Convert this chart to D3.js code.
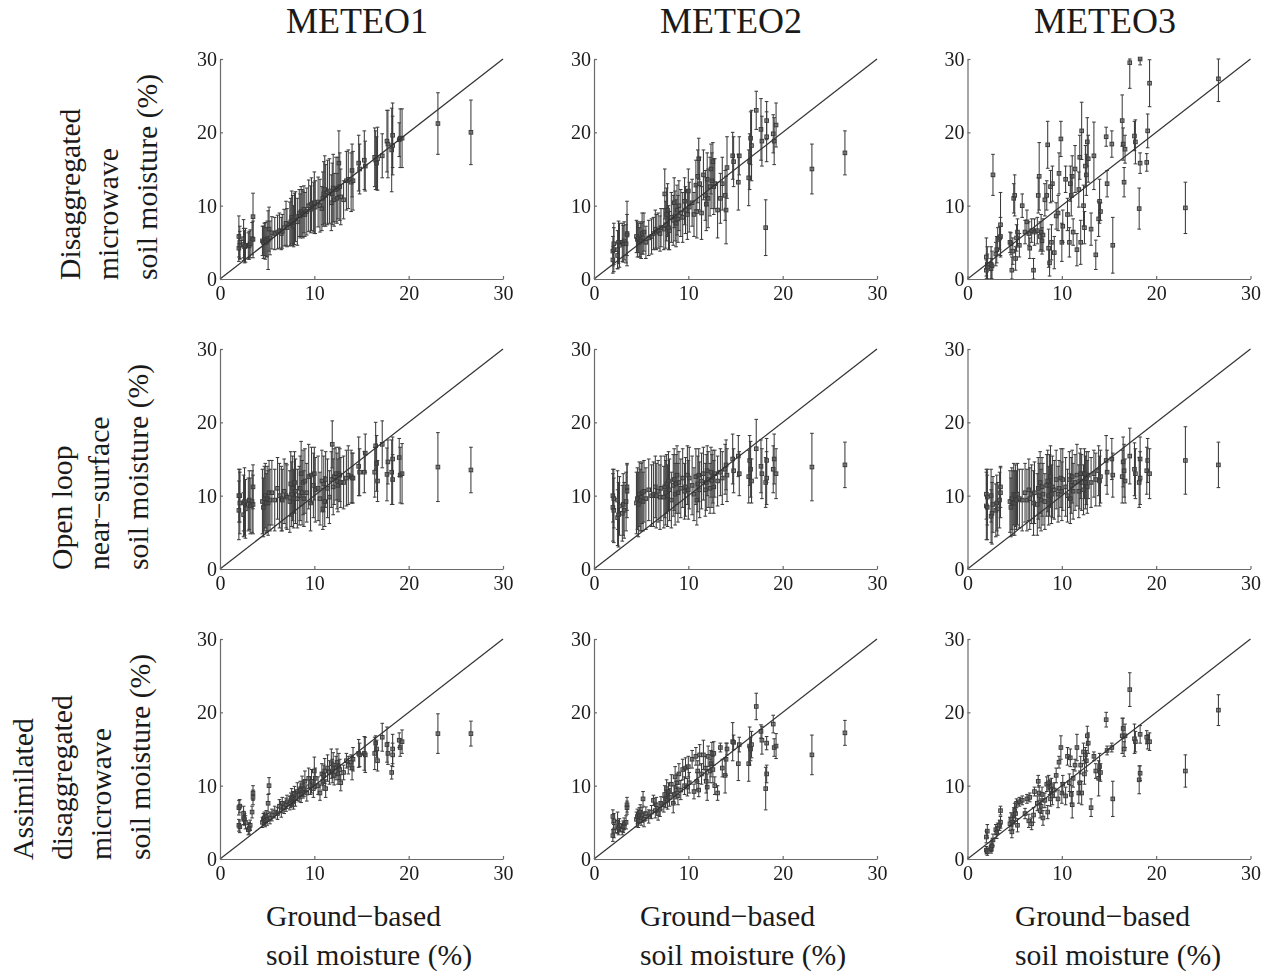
<!DOCTYPE html>
<html>
<head>
<meta charset="utf-8">
<script src="https://cdn.jsdelivr.net/npm/d3@7"></script>
<style>
html,body{margin:0;padding:0;background:#fff;}
svg{display:block;}
text{font-family:"Liberation Serif",serif;fill:#1a1a1a;}
</style>
</head>
<body>
<div id="chart"></div>
<script>
const columnTitles = ["METEO1","METEO2","METEO3"];
const rowLabels = [
  ["Disaggregated","microwave","soil moisture (%)"],
  ["Open loop","near\u2212surface","soil moisture (%)"],
  ["Assimilated","disaggregated","microwave","soil moisture (%)"]
];
const xLabelLines = ["Ground\u2212based","soil moisture (%)"];
const tickValues = [0,10,20,30];

const ground = [
 2.0,2.0,2.1,2.1,2.5,2.5,2.6,2.7,3.0,3.1,3.2,3.4,3.5,3.5,
 4.5,4.6,4.7,4.8,4.9,5.0,5.1,5.2,5.3,5.5,5.8,6.1,6.3,6.5,6.6,6.8,7.0,7.1,
 7.4,7.5,7.6,7.7,7.8,7.9,8.0,8.2,8.4,8.5,8.6,8.7,8.8,8.9,9.0,9.2,9.4,9.6,9.7,9.9,10.0,10.1,
 10.4,10.6,10.8,10.9,11.0,11.1,11.2,11.4,11.6,11.8,11.9,12.0,12.1,12.3,12.4,12.5,12.6,12.7,12.8,
 13.1,13.4,13.6,13.9,14.0,14.1,14.7,14.8,15.3,15.4,16.4,16.5,16.6,16.7,17.2,17.7,17.8,18.2,18.3,18.3,19.0,19.1,19.3,23.1,26.6];

const disaggMeteo1 = [
 4.2,5.8,5.0,4.6,4.7,5.5,4.4,4.6,4.5,4.6,4.8,5.5,8.5,5.4,
 5.2,5.0,5.4,5.2,5.0,5.5,5.3,6.8,5.6,6.3,6.2,6.4,6.6,6.2,6.5,7.0,7.6,7.0,
 7.5,7.8,8.4,8.0,7.2,8.2,8.5,7.8,9.0,8.6,9.2,9.0,8.8,9.5,8.8,9.2,10.0,9.5,10.2,9.8,10.4,9.8,
 10.5,10,9.6,11,11.6,12.2,11.4,11.8,12,10.4,11.6,12.4,10.8,12.2,11,12.4,15.8,12.6,11.2,
 10.8,13.4,13.6,13.2,14.8,13.4,15.8,15.0,16.2,15.4,16.6,16.2,15.8,16.4,16.8,18.8,18.4,17.6,19.6,18.2,19.0,19.2,19.2,21.2,20.0];
const disaggMeteo1Err = [
 1.8,2.8,2.2,1.9,2.2,2.6,2.2,2.3,1.8,1.9,1.9,2.2,3.2,2.5,
 2.0,2.2,2.2,2.5,2.0,2.4,4.0,3.0,2.3,2.2,2.2,2.3,2.4,2.2,2.3,2.5,3.0,2.6,
 3,3.2,3.6,3.4,2.8,3.5,3.4,3.2,3.2,3,3.4,3.2,3.2,3.2,3,3.2,3.5,3.2,3.6,3.4,4.2,3.6,
 3.4,3.6,3,3.6,4.4,4.6,4.2,4.4,4.4,3.8,4.2,4.6,3.6,4.4,3.4,4.2,4.4,4.6,3.8,
 2.6,4,4,4,3.6,4,3.8,3.4,4,3.4,4,4,3.6,4.3,3,4.2,4.6,5.7,4.4,4,2.3,4,4,4.2,4.4];

const disaggMeteo2 = [
 2.6,3.8,4.0,4.8,3.2,4.0,5.0,4.6,5.0,4.8,5.2,4.8,6.2,6.0,
 5.8,5.4,5.6,5.0,5.4,5.2,6.2,5.6,6.4,5.0,5.6,5.8,6.2,6.8,6.4,6.6,6.2,7.0,
 6.8,11.6,7.4,8.8,9.4,7.0,6.6,8.4,8.0,10.4,8.6,7.6,9.4,8.2,10.0,9.0,8.4,10.6,9.4,8.8,12.0,9.8,
 10.4,8.8,12.8,9.2,14.0,16.4,13.0,9.0,14.2,11.4,10.2,13.6,11.0,12.6,15.0,13.4,16.0,12.6,13.0,
 9.4,11.0,13.0,11.4,9.4,15.2,16.8,16.0,13.2,16.8,13.8,16.0,19.2,18.2,23.0,20.4,18.8,7.0,19.4,21.6,19.8,18.8,21.0,15.0,17.2];
const disaggMeteo2Err = [
 1.8,2.0,3.0,2.8,1.8,2.6,2.9,3.0,2.6,2.5,2.6,2.6,4.4,2.8,
 2.2,2.4,2.0,2.0,2.4,2.4,2.8,2.2,2.6,2.2,2.4,2.4,2.2,2.6,2.4,2.4,2.4,2.6,
 2.8,3.4,3.2,3.6,3.6,3.0,2.6,3.4,3.4,3.4,3.4,3.2,3.4,3.2,3.4,3.2,3.4,3.2,3.2,3.4,3.0,3.4,
 3.2,3.0,3.4,3.6,3.6,2.8,3.6,3.6,3.4,3.4,3.6,3.6,4.0,4.0,3.4,3.8,2.6,3.8,3.4,
 3.8,3.4,3.6,3.4,4.6,4.2,3.2,3.4,3.8,2.6,3.8,3.8,3.6,4.8,2.6,4.2,3.4,3.8,3.4,2.6,2.6,3.2,3.0,3.4,3.0];

const disaggMeteo3 = [
 1.2,3.0,2.0,1.6,1.4,2.0,1.8,14.2,3.4,4.0,5.4,5.6,7.4,5.8,
 5.0,4.8,1.2,3.8,11.0,11.4,2.8,5.6,6.4,4.6,10.0,6.4,7.8,6.2,4.2,6.6,1.2,6.4,
 6.6,11.4,14.0,5.8,6.4,5.2,6.0,10.8,11.4,18.3,4.2,2.2,12.6,5.0,13.0,3.6,8.6,9.0,14.4,19.1,5.0,7.2,
 13.6,8.8,5.0,13.0,11.4,14.0,6.4,15.0,4.0,12.2,16.6,5.0,20.2,10.0,7.0,15.4,14.2,18.7,16.4,
 6.8,16.8,3.3,8.2,10.6,9.2,19.4,13.0,18.4,4.6,21.6,18.4,13.2,17.7,29.5,19.5,18.7,9.6,30,15.8,15.9,20.2,26.7,9.7,27.3];
const disaggMeteo3Err = [
 1.4,2.6,2.4,1.8,1.4,2.4,2.0,2.8,1.6,1.8,1.6,1.6,4.4,2.6,
 1.4,1.5,1.8,1.8,2.0,2.8,1.6,1.8,1.8,1.6,1.6,1.6,1.6,1.6,1.4,1.6,1.6,1.8,
 1.8,2.4,4.6,2.0,2.4,1.8,2.2,2.2,2.0,3.2,2.6,1.8,2.2,2.4,2.4,2.2,1.8,2.4,2.8,2.4,2.6,2.2,
 1.8,2.2,2.0,2.4,2.8,2.8,1.8,3.2,2.2,2.4,3.0,3.0,3.9,2.8,2.2,2.8,2.8,3.3,3.2,
 2.2,4.6,2.0,2.4,3.0,1.2,1.3,1.8,1.8,3.8,3.5,2.2,2.0,1.9,3.5,2.0,3.0,2.8,0.8,1.4,1.2,2.3,3.2,3.5,3.1];

const openMeteo1 = [
 8.0,10.0,10.0,9.0,9.0,7.4,9.2,8.2,8.8,9.4,8.6,9.2,11.2,8.8,
 9.2,8.4,9.6,10.0,9.0,9.6,9.0,10.4,9.4,10.4,9.4,11.0,10.0,9.6,9.4,10.6,10.0,9.8,
 9.2,11.6,10.2,11.0,9.6,11.8,10.6,9.6,10.0,11.0,13.0,10.4,11.8,9.6,12.0,10.4,12.6,9.0,12.8,11.4,13.0,10.8,
 11.0,9.6,12.0,8.2,11.6,9.2,12.2,11.0,9.8,12.2,17.0,11.2,12.6,13.0,12.0,11.4,13.0,12.8,11.8,
 11.8,12.4,12.8,12.6,12.4,12.4,14.0,13.2,13.2,15.8,13.2,16.8,14.4,12.0,17.0,12.9,14.6,13.2,15.0,12.2,15.2,12.8,13.0,13.9,13.5];
const openMeteo1Err = [
 4.0,3.6,3.6,4.2,3.8,3.0,4.6,4.0,3.6,4.0,3.8,4.2,3.0,4.0,
 4.4,4.0,4.4,4.4,4.0,4.4,4.4,4.4,4.2,4.4,4.2,4.2,4.4,4.4,4.2,4.4,4.4,4.4,
 4.2,4.4,4.4,4.4,4.0,4.2,4.4,4.0,4.0,4.4,4.4,4.4,4.4,3.8,4.4,4.0,4.4,3.8,3.8,4.4,3.6,4.4,
 4.4,3.6,4.2,2.8,3.8,3.4,3.8,4.0,3.6,3.8,3.2,3.8,3.8,3.6,3.8,3.6,3.6,3.6,3.4,
 3.6,3.8,4.0,3.6,3.4,3.4,4.0,3.2,2.8,2.6,3.4,3.2,3.8,2.8,3.2,3.6,3.0,4.4,3.0,3.4,2.6,3.8,4.1,4.7,3.1];

const openMeteo2 = [
 8.4,10.0,8.0,9.6,7.0,9.4,7.4,8.6,7.6,8.8,8.0,9.2,11.2,10.6,
 9.0,9.6,8.8,10.2,9.4,9.8,10.4,9.2,10.6,9.6,10.8,10.0,10.2,11.2,10.0,10.6,9.8,11.0,
 9.8,11.2,10.4,11.6,10.0,12.0,10.8,9.4,11.4,12.2,10.2,11.6,12.8,10.4,11.8,11.0,12.4,10.6,11.2,12.8,10.8,12.4,
 11.4,10.2,12.6,9.4,11.6,12.8,10.8,12.0,13.0,10.8,11.8,13.4,12.2,11.0,13.2,12.0,12.6,11.2,13.0,
 12.0,13.2,12.4,13.6,14.2,12.8,15.0,13.4,15.4,13.0,12.6,14.8,13.6,12.0,16.4,14.0,13.0,11.8,14.8,12.4,13.6,15.0,13.0,13.9,14.2];
const openMeteo2Err = [
 4.6,3.6,4.4,4.0,3.8,4.0,4.4,4.0,3.8,4.2,3.8,4.0,3.2,3.6,
 4.2,4.2,4.4,4.4,4.2,4.6,4.2,4.0,4.2,4.2,4.2,4.2,4.4,4.2,4.4,4.2,4.4,4.4,
 4.2,4.2,4.4,4.0,4.2,4.0,4.2,3.8,4.2,4.2,4.2,4.0,4.0,4.0,4.2,4.0,4.0,3.8,4.0,4.0,4.0,4.2,
 4.0,3.6,3.8,3.4,3.8,3.6,3.8,3.8,3.6,3.6,3.8,3.4,3.8,3.4,3.4,3.6,3.6,3.6,3.2,
 3.4,3.2,3.6,3.4,3.4,3.6,3.4,3.0,2.8,3.0,3.6,3.4,3.8,3.0,4.0,3.6,3.4,3.4,3.0,3.6,3.2,3.4,3.4,4.6,3.1];

const openMeteo3 = [
 8.6,10.2,8.4,9.8,7.2,10.0,7.6,8.8,8.0,9.0,8.2,9.4,11.2,10.4,
 9.2,8.4,9.6,9.0,10.2,9.0,10.0,9.4,10.2,9.6,9.4,10.4,9.4,10.8,9.6,10.2,9.0,10.4,
 8.8,11.0,10.0,11.8,9.4,11.2,10.2,9.2,11.4,12.0,10.0,11.4,12.6,10.2,11.2,10.8,12.2,10.2,11.0,12.4,10.6,12.2,
 11.2,10.0,12.2,9.6,11.4,12.6,10.6,11.8,12.8,10.6,12.0,13.0,11.8,10.8,13.0,11.8,12.4,11.2,12.8,
 11.8,13.0,12.2,13.4,12.0,12.6,14.8,13.2,15.0,12.8,12.6,14.6,13.4,12.0,15.4,13.6,13.0,11.8,15.0,12.4,13.4,14.8,13.0,14.8,14.2];
const openMeteo3Err = [
 4.6,3.4,4.4,3.8,3.6,3.6,4.2,3.8,3.6,3.8,3.6,3.8,2.8,3.4,
 4.2,4.0,4.2,4.4,4.2,4.4,4.2,4.0,4.2,4.0,4.2,4.0,4.2,4.2,4.2,4.0,4.4,4.2,
 4.2,4.2,4.4,4.2,4.2,4.0,4.2,3.8,4.2,4.2,4.0,4.2,4.2,4.0,4.2,4.0,4.0,3.8,3.8,4.0,4.0,4.2,
 4.0,3.6,3.8,3.4,3.8,3.6,3.8,3.8,4.2,3.6,3.8,3.4,3.8,3.4,3.4,3.6,3.6,3.6,3.2,
 3.4,3.2,3.6,3.4,3.4,3.6,3.4,3.0,2.8,3.0,3.6,3.4,3.6,3.0,3.8,3.6,3.4,3.4,3.0,3.6,3.2,3.0,3.4,4.6,3.1];

const assimMeteo1 = [
 4.6,7.0,7.2,4.4,5.6,6.2,5.4,5.0,4.0,4.2,4.6,6.4,8.4,9.0,
 5.0,5.4,5.6,5.2,5.8,5.4,7.6,10.0,5.6,6.0,6.4,6.2,7.2,6.6,7.6,7.0,7.4,7.8,
 7.6,8.0,8.4,8.2,7.8,8.8,8.2,9.2,8.8,9.4,8.8,10.0,9.4,9.6,10.6,9.0,11.0,10.0,10.6,9.6,12.0,11.0,
 10.0,9.0,11.6,10.6,11.4,12.0,9.6,12.4,11.8,13.0,12.0,12.8,11.4,12.4,13.2,11.6,12.6,12.2,10.4,
 11.8,13.4,12.8,13.2,12.4,13.6,14.4,14.2,14.4,14.2,14.4,15.8,15.0,13.4,16.6,15.6,14.4,11.8,15.0,14.2,16.2,15.2,16.0,17.1,17.1];
const assimMeteo1Err = [
 0.8,1.0,0.9,0.8,0.9,1.0,0.8,0.9,0.7,0.8,0.7,0.8,1.0,1.0,
 0.7,0.8,0.8,0.8,0.8,0.8,1.2,1.1,0.8,0.8,0.8,0.8,0.9,0.9,0.8,0.8,0.9,0.9,
 0.9,1.0,1.2,1.0,1.0,1.1,1.0,1.2,1.0,1.2,1.1,1.3,1.1,1.1,1.4,1.1,1.4,1.2,1.6,1.2,1.9,1.4,
 1.2,1.0,1.4,1.2,1.4,1.7,1.2,1.8,1.6,2.0,1.6,1.7,1.3,1.6,1.8,1.4,1.8,1.4,1.1,
 1.0,1.0,1.2,1.0,1.6,1.6,1.9,1.6,2.3,2.4,2.2,1.0,1.2,1.4,1.9,2.4,1.5,0.9,2.0,1.6,1.0,1.2,1.6,2.7,1.7];

const assimMeteo2 = [
 3.2,5.8,5.2,3.8,4.4,5.0,4.2,4.6,4.0,4.4,4.8,5.0,7.0,7.4,
 5.4,5.8,5.2,6.0,6.4,5.6,6.0,8.2,5.4,6.2,5.8,6.4,8.0,6.6,7.4,6.2,6.8,7.6,
 7.4,8.8,8.2,9.6,8.0,9.2,8.4,10.2,7.6,8.8,11.2,9.4,10.4,8.6,11.6,9.4,12.2,10.0,12.4,9.8,12.6,10.4,
 13.6,9.2,14.0,10.6,12.0,9.4,14.2,11.6,14.2,12.4,10.6,9.8,14.0,12.0,13.0,14.4,12.2,14.4,10.0,
 9.0,15.2,12.4,11.4,13.6,15.0,16.0,15.9,13.0,15.6,13.0,15.4,15.0,15.6,20.8,17.4,16.2,9.6,11.6,15.8,18.4,15.2,15.4,14.2,17.2];
const assimMeteo2Err = [
 0.8,0.9,1.0,0.9,0.9,1.4,0.9,0.9,0.7,0.8,0.8,0.9,0.9,1.0,
 1.0,1.0,0.9,1.0,1.0,1.0,1.0,1.0,1.0,0.9,0.9,0.9,0.7,1.0,1.0,0.9,1.0,0.9,
 1.0,1.2,1.2,1.2,1.2,1.2,1.2,1.3,1.3,1.2,1.4,1.2,1.2,1.2,1.4,1.3,1.4,1.2,1.4,1.2,1.4,1.4,
 1.2,1.0,1.2,1.2,1.4,0.9,1.4,1.4,2.0,1.6,1.6,1.8,1.4,1.6,1.8,1.5,1.8,1.6,1.2,
 1.0,0.6,1.2,2.4,2.2,0.8,2.6,1.0,2.3,1.0,2.4,2.6,1.6,1.8,1.8,0.9,1.9,2.9,1.2,0.9,1.2,1.2,1.7,2.7,1.7];

const assimMeteo3 = [
 3.0,1.2,3.8,1.0,1.4,1.6,1.8,2.6,4.0,3.6,4.2,4.6,6.6,5.0,
 4.8,5.4,3.7,5.0,6.0,6.6,6.2,7.6,4.6,7.8,8.0,6.2,8.2,5.2,8.4,4.8,6.0,9.2,
 7.6,10.6,9.0,6.6,7.2,8.8,5.6,8.0,10.2,6.4,10.4,9.8,8.2,10.0,8.6,9.4,11.4,8.2,13.2,15.2,9.0,10.2,
 8.6,14.0,10.4,13.8,8.8,7.4,11.0,12.8,15.2,9.0,10.4,12.8,9.0,14.6,11.6,14.2,13.4,16.8,15.8,
 7.0,14.0,12.0,11.0,12.6,11.8,19.0,14.8,15.2,8.2,16.8,17.8,15.0,16.8,23.1,16.4,16.0,10.8,11.7,17.0,16.6,16.0,16.0,12.0,20.3];
const assimMeteo3Err = [
 0.8,0.5,0.9,0.5,0.6,0.6,0.7,0.8,0.7,0.8,0.7,0.7,0.6,0.8,
 0.9,0.9,0.8,1.0,1.0,1.0,1.0,0.6,0.9,0.6,0.6,0.7,0.6,0.9,0.6,0.8,1.0,0.6,
 1.0,0.8,1.0,1.0,1.0,1.0,1.0,1.0,1.0,0.9,1.0,1.0,1.0,1.0,1.2,1.0,1.0,1.2,0.8,1.6,1.4,1.2,
 1.2,1.2,1.2,1.2,1.2,1.8,1.2,0.8,1.8,1.4,1.6,1.2,1.6,1.2,1.4,1.0,1.4,1.3,1.4,
 1.2,0.6,1.0,2.4,1.8,1.2,1.0,0.6,0.6,2.4,2.4,1.4,1.0,1.6,2.3,2.0,1.4,1.9,1.0,1.2,0.9,1.0,1.2,2.2,2.1];

const panelSeries = [
 [[disaggMeteo1,disaggMeteo1Err],[disaggMeteo2,disaggMeteo2Err],[disaggMeteo3,disaggMeteo3Err]],
 [[openMeteo1,openMeteo1Err],[openMeteo2,openMeteo2Err],[openMeteo3,openMeteo3Err]],
 [[assimMeteo1,assimMeteo1Err],[assimMeteo2,assimMeteo2Err],[assimMeteo3,assimMeteo3Err]]
];

const W = 1269, H = 974;
const colLeft = [220, 594, 967.5], colW = 283;
const rowTop = [59, 349, 639], rowH = 220;
const labelBaselines = [[80,118,157],[72,109,148],[33,72,111,150]];
const colXLabel = [266, 640, 1015];
const titleCenters = [357, 731, 1105];

const svg = d3.select("#chart").append("svg").attr("width",W).attr("height",H);
const defs = svg.append("defs");
defs.append("filter").attr("id","soft").attr("x","-5%").attr("y","-5%").attr("width","110%").attr("height","110%")
  .append("feGaussianBlur").attr("stdDeviation",0.4);

const ink = "#1c1c1c", axisInk = "#6a6a6a";

columnTitles.forEach((t,c)=>{
  svg.append("text").attr("x",titleCenters[c]).attr("y",33).attr("text-anchor","middle")
    .style("font-size","36px").text(t);
});

rowLabels.forEach((lines,r)=>{
  lines.forEach((line,i)=>{
    svg.append("text")
      .attr("transform",`translate(${labelBaselines[r][i]},${rowTop[r]+rowH+1}) rotate(-90)`)
      .style("font-size","29.7px").text(line);
  });
});

colXLabel.forEach(x=>{
  svg.append("text").attr("x",x).attr("y",926).style("font-size","29.7px").text(xLabelLines[0]);
  svg.append("text").attr("x",x).attr("y",965).style("font-size","29.7px").text(xLabelLines[1]);
});

panelSeries.forEach((rowData,r)=>{
  rowData.forEach(([vals,errs],c)=>{
    const x = d3.scaleLinear().domain([0,30]).range([colLeft[c],colLeft[c]+colW]);
    const y = d3.scaleLinear().domain([0,30]).range([rowTop[r]+rowH,rowTop[r]]).clamp(true);
    const g = svg.append("g").attr("filter","url(#soft)");

    const pts = d3.zip(ground,vals,errs).map(([gx,v,e])=>({gx,v,e}));

    const bars = g.append("g").attr("stroke",ink).attr("stroke-width",1.05).attr("opacity",0.85).attr("fill","none");
    bars.selectAll("line.v").data(pts).join("line").attr("class","v")
      .attr("x1",d=>x(d.gx)).attr("x2",d=>x(d.gx))
      .attr("y1",d=>y(d.v-d.e)).attr("y2",d=>y(d.v+d.e));
    bars.selectAll("line.t").data(pts).join("line").attr("class","t")
      .attr("x1",d=>x(d.gx)-1.8).attr("x2",d=>x(d.gx)+1.8)
      .attr("y1",d=>y(d.v+d.e)).attr("y2",d=>y(d.v+d.e));
    bars.selectAll("line.b").data(pts).join("line").attr("class","b")
      .attr("x1",d=>x(d.gx)-1.8).attr("x2",d=>x(d.gx)+1.8)
      .attr("y1",d=>y(d.v-d.e)).attr("y2",d=>y(d.v-d.e));
    bars.selectAll("rect").data(pts).join("rect")
      .attr("x",d=>x(d.gx)-1.8).attr("y",d=>y(d.v)-1.8).attr("width",3.6).attr("height",3.6)
      .attr("fill","#333").attr("fill-opacity",0.55).attr("stroke-width",1);

    g.append("line").attr("x1",x(0)).attr("y1",y(0)).attr("x2",x(30)).attr("y2",y(30))
      .attr("stroke","#333").attr("stroke-width",1.2);

    const ax = g.append("g").attr("transform",`translate(0,${y(0)})`)
      .call(d3.axisBottom(x).tickValues(tickValues).tickFormat(d3.format("d")).tickSizeInner(-3).tickSizeOuter(0).tickPadding(6));
    const ay = g.append("g").attr("transform",`translate(${x(0)},0)`)
      .call(d3.axisLeft(y).tickValues(tickValues).tickFormat(d3.format("d")).tickSizeInner(-3).tickSizeOuter(0).tickPadding(3));
    [ax,ay].forEach(a=>{
      a.selectAll("path,line").attr("stroke",axisInk).attr("stroke-width",1.2);
      a.selectAll("text").style("font-size","20px").style("font-family","'Liberation Serif',serif").attr("fill","#1a1a1a");
    });
    ax.selectAll("text").attr("y",7);
  });
});
</script>
</body>
</html>
